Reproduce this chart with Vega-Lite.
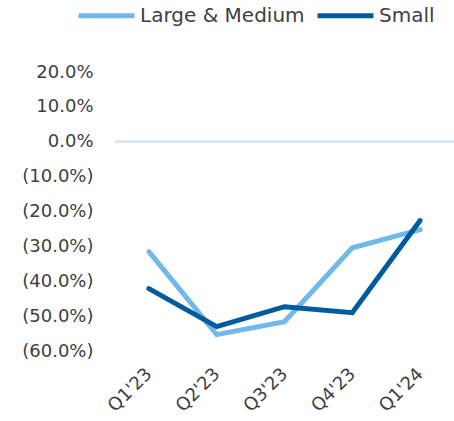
{
  "$schema": "https://vega.github.io/schema/vega-lite/v6.json",
  "autosize": "none",
  "padding": {"left": 115, "top": 72, "right": 0, "bottom": 70},
  "width": 339,
  "height": 279,
  "background": "white",
  "config": {
    "view": {"stroke": null},
    "font": "DejaVu Sans",
    "axisY": {
      "title": null, "domain": false, "ticks": false, "grid": false,
      "labelPadding": 22, "labelFontSize": 18, "labelColor": "#404040",
      "labelFont": "DejaVu Sans", "labelOverlap": false, "labelFlush": false, "labelBound": false
    }
  },
  "data": {
    "values": [
      {"q": "Q1'23", "series": "Large & Medium", "v": -31.5},
      {"q": "Q2'23", "series": "Large & Medium", "v": -55.3},
      {"q": "Q3'23", "series": "Large & Medium", "v": -51.6},
      {"q": "Q4'23", "series": "Large & Medium", "v": -30.4},
      {"q": "Q1'24", "series": "Large & Medium", "v": -25.2},
      {"q": "Q1'23", "series": "Small", "v": -42.1},
      {"q": "Q2'23", "series": "Small", "v": -53.0},
      {"q": "Q3'23", "series": "Small", "v": -47.3},
      {"q": "Q4'23", "series": "Small", "v": -49.0},
      {"q": "Q1'24", "series": "Small", "v": -22.6}
    ]
  },
  "layer": [
    {
      "mark": {"type": "rule", "color": "#DAE5F1", "strokeWidth": 2},
      "encoding": {"y": {"datum": 0, "type": "quantitative",
        "axis": {
          "title": null,
          "values": [20, 10, 0, -10, -20, -30, -40, -50, -60],
          "labelExpr": "datum.value < 0 ? '(' + format(-datum.value, '.1f') + '%)' : format(datum.value, '.1f') + '%'"
        }}}
    },
    {
      "mark": {"type": "line", "strokeWidth": 5, "strokeCap": "round", "strokeJoin": "miter"},
      "encoding": {
        "x": {
          "field": "q", "type": "ordinal", "sort": null,
          "scale": {"type": "point", "padding": 0.5},
          "axis": {
            "title": null, "domain": false, "ticks": false,
            "labelAngle": -45, "labelAlign": "right", "labelBaseline": "middle",
            "labelPadding": 20, "labelFontSize": 18, "labelColor": "#404040",
            "labelFont": "DejaVu Sans", "labelOverlap": false, "labelBound": false
          }
        },
        "y": {
          "field": "v", "type": "quantitative",
          "scale": {"domain": [-60, 20], "nice": false, "zero": false},
          "axis": {
            "title": null,
            "values": [20, 10, 0, -10, -20, -30, -40, -50, -60],
            "labelExpr": "datum.value < 0 ? '(' + format(-datum.value, '.1f') + '%)' : format(datum.value, '.1f') + '%'"
          }
        },
        "color": {
          "field": "series", "type": "nominal",
          "scale": {"domain": ["Large & Medium", "Small"], "range": ["#70B9E8", "#005A9E"]},
          "legend": {
            "title": null, "orient": "none", "direction": "horizontal",
            "legendX": -39, "legendY": -87,
            "symbolType": "stroke", "symbolSize": 3136, "symbolStrokeWidth": 5,
            "labelFontSize": 20, "labelColor": "#404040", "labelFont": "DejaVu Sans",
            "labelOffset": 3, "columnPadding": 2, "labelLimit": 0
          }
        }
      }
    }
  ]
}
